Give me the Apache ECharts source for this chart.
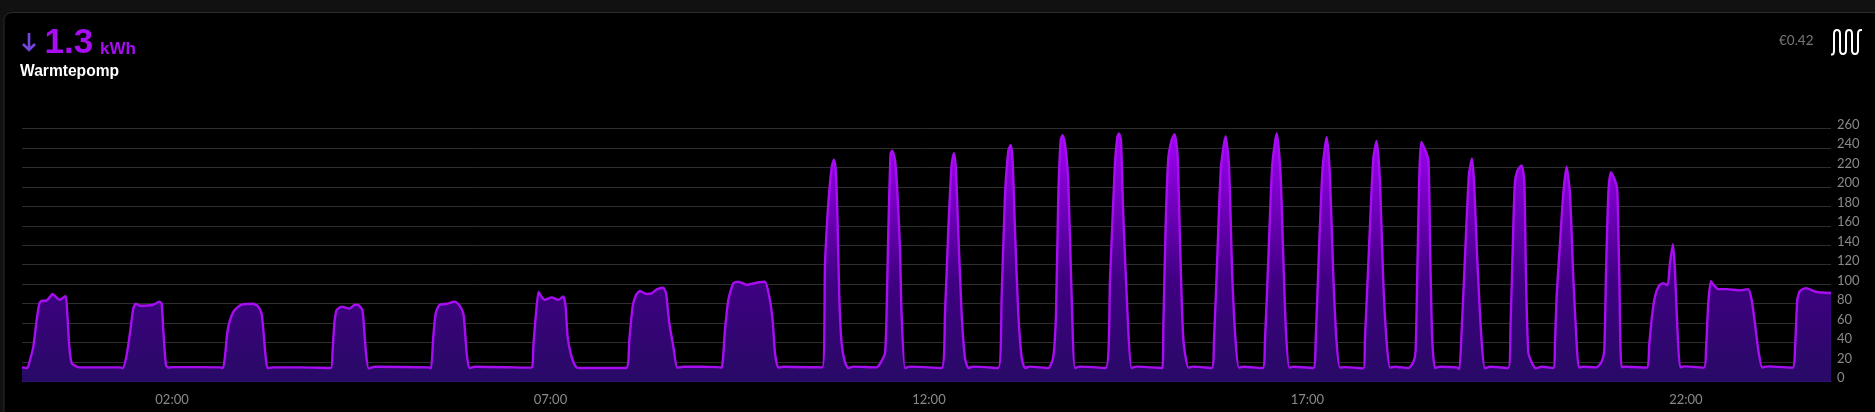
<!DOCTYPE html>
<html>
<head>
<meta charset="utf-8">
<style>html,body{margin:0;padding:0;background:#111;overflow:hidden}#c{width:1875px;height:412px}</style>
<script src="https://cdn.jsdelivr.net/npm/echarts@6/dist/echarts.min.js"></script>
</head>
<body>
<div id="c"></div>
<script>
const minutes = [
1.1,5.3,7.4,10.1,12.7,14.8,16.7,20.1,23.3,25.4,27.2,30.7,32.5,35.7,37.0,38.6,40.5,44.4,47.1,
78.8,80.9,84.0,86.7,89.3,91.2,94.6,105.2,109.9,111.8,113.1,115.2,117.1,121.0,
158.0,160.4,162.0,163.8,165.9,169.9,175.2,184.4,188.4,191.0,192.4,194.2,195.8,200.3,221.4,
245.8,247.3,248.7,250.5,254.5,260.6,265.0,267.7,270.9,272.2,273.8,275.9,280.9,
323.2,325.3,327.1,329.0,331.9,337.7,344.3,347.7,350.9,352.2,353.6,355.7,360.2,
405.1,406.4,408.5,410.6,413.0,415.6,420.9,426.2,430.2,432.0,433.6,436.0,438.6,440.7,443.4,
479.9,482.5,485.1,487.8,491.0,496.2,500.2,504.2,509.4,511.6,514.2,517.4,520.5,525.3,
553.0,555.7,558.3,561.0,564.9,568.9,575.5,583.4,590.0,593.5,596.1,598.0,600.6,604.6,
635.5,637.6,640.2,642.9,644.7,646.3,647.6,648.9,650.8,653.4,656.1,660.0,
678.5,681.2,685.1,686.4,687.8,689.6,690.9,693.1,694.9,697.0,698.3,701.0,704.9,
730.0,732.7,735.3,738.0,739.8,741.4,743.2,745.9,748.5,751.2,755.1,
774.9,777.6,780.2,782.9,784.7,786.3,788.2,790.8,793.5,796.1,800.1,
814.6,818.5,820.7,822.5,824.4,825.9,827.8,830.4,833.1,835.7,839.7,
860.0,863.5,867.4,869.3,870.6,872.2,874.0,878.0,880.6,884.6,
905.0,905.8,907.6,909.7,912.4,914.7,917.1,919.0,921.6,925.6,929.5,
944.1,945.9,948.5,951.4,955.1,957.8,960.4,963.1,965.7,969.1,
984.5,986.3,989.0,992.1,995.6,998.7,1000.9,1003.0,1005.6,1008.8,
1024.6,1026.5,1029.1,1032.0,1035.2,1037.8,1040.5,1043.1,1045.8,1049.7,
1064.3,1065.6,1069.0,1072.2,1074.8,1077.5,1080.1,1082.8,1085.4,1089.4,
1099.9,1103.9,1105.7,1107.3,1108.7,1110.2,1113.9,1116.0,1117.4,1118.9,1121.1,1125.0,
1138.2,1140.4,1142.2,1144.8,1148.0,1150.4,1152.2,1154.6,1158.1,1160.7,1164.7,
1179.2,1181.0,1183.2,1184.5,1186.6,1189.8,1191.9,1193.2,1195.0,1197.7,1201.1,1205.6,
1214.9,1216.2,1217.5,1220.2,1222.8,1225.4,1228.1,1230.7,1233.4,1235.2,1238.6,
1249.2,1253.2,1255.3,1256.6,1258.5,1260.6,1263.7,1265.6,1267.2,1269.0,1273.0,
1288.9,1291.0,1293.1,1295.4,1298.9,1302.1,1305.5,1307.3,1309.7,1311.3,1313.2,1315.5,1319.2,
1334.3,1335.9,1337.7,1339.8,1342.2,1345.6,1352.3,1362.8,1369.4,1372.1,1374.7,1377.4,1380.5,1385.3,
1404.6,1406.4,1408.3,1410.4,1415.1,1423.6,1435.0
];
const watts = [
14.7,14,22,36,63,80,83,83,87,90,88,84,85,88,70,36,19,15.4,14.7,
14.7,14,27,50,75,80,78,79,82,80,53,17,14.5,15,
14.7,14,26,50,63,74,79,80,77,70,53,26,14,14.7,14.7,
14,32,60,73.5,77,75,79,78.6,73.5,56,29,13.7,15.4,
14.7,13.7,46,70,78.6,80,82,78.6,70,53,29,14,15.4,
14.4,36,70,92,87,84,86.5,84,87.5,77,46,29,19,14.7,14,
14,43,77,89,93,90,90.6,94.7,96.4,90.6,60,36,14.4,15.4,
15,14.4,53,84,101,102.6,99.5,101.5,102.6,87,63,29,14.4,15.4,
14.7,121,182.6,220,227.7,213,162,87,39,20,14,15.5,
14.7,18.5,29,70,155,234,237,227,196,138,70,14,15.5,
14,70,155,223.6,234.5,217,155,70,25,14,15.5,
14,87,189,237,243,227,155,70,25,14,15.5,
14,25,70,189,247.5,253,244,206.5,87,14,15.5,
14,104,223.6,251,254.7,247.5,172,52.6,14,15.5,
14,58,160,229,248,254,232,143,44,14.4,15.5,
14,41,126,219,252,222,109,41,14.4,15.4,
14,41,126,222,255,212,126,51,14.4,15.4,
14,41,133,219,251,212,109,41,14.4,15,
13.7,44,143,229,247,205,102,41,14.4,15.4,
14,20,31,126,212,246,236,226,126,44,14,15.4,
14.7,13,51,126,212,229,202,126,41,13.7,15.4,
14,58,160,205,217,222,205,109,31,20,13.7,15.4,
14,39,87,142,193,220.5,193,108,39,14.7,15.4,
14.7,20.5,32.5,108,193,215,207,197,108,15,15.4,
14.4,39,67,87,99,101,99,121,141,114.5,56,14.7,15.7,
14.4,32.5,80,103,99,95,95,93.7,95,84,60,32.5,14.7,15.7,
14.4,32.5,84,93,96,92,91
];
const xTickMinutes = [120,420,720,1020,1320];
const xTickLabels = ['02:00','07:00','12:00','17:00','22:00'];
const title = 'Warmtepomp';
const stateValue = '1.3';
const stateUnit = 'kWh';
const cost = '€0.42';

echarts.graphic.registerShape('arrowIcon', echarts.graphic.extendPath('M29 33V50M23 44L29 50L35 44'));
echarts.graphic.registerShape('waveIcon', echarts.graphic.extendPath('M1831 54.5h1q2 0 2-4V34q0-4 3-4t3 4V50q0 4 3 4t3-4V34q0-4 3-4t3 4V50q0 4 3 4t3-4V34q0-4 3-4h1'));

const purple = '#a80df2';
const chart = echarts.init(document.getElementById('c'), null, {renderer:'canvas', width:1875, height:412});
chart.setOption({
  animation:false,
  backgroundColor:'#111111',
  grid:{left:22, right:44, top:128.3, bottom:30.3, containLabel:false},
  xAxis:{
    type:'value', min:1.1, max:1435,
    splitLine:{show:false},
    axisLine:{show:true, onZero:false, lineStyle:{color:'#4a2a8c', width:1}},
    axisTick:{show:false},
    axisLabel:{
      color:'#8a8a8a', fontFamily:'Lato', fontSize:13, margin:12,
      customValues:xTickMinutes,
      formatter:v=>xTickLabels[xTickMinutes.indexOf(v)]
    }
  },
  yAxis:{
    type:'value', position:'right', min:0, max:260, interval:20,
    axisLine:{show:false}, axisTick:{show:false},
    splitLine:{lineStyle:{color:'#2e2e2e', width:1}},
    axisLabel:{color:'#8a8a8a', fontFamily:'Lato', fontSize:13, margin:6, align:'left', verticalAlign:'bottom', lineHeight:7}
  },
  series:[{
    type:'line', showSymbol:false, clip:true,
    smooth:0.2,
    data:minutes.map((m,i)=>[m,watts[i]]),
    lineStyle:{color:purple, width:2.4},
    areaStyle:{color:new echarts.graphic.LinearGradient(0,0,0,1,[
      {offset:0,color:'#a000f5'},
      {offset:0.6,color:'#3f0082'},
      {offset:1,color:'#280a66'}
    ]), opacity:1}
  }],
  graphic:[
    {type:'rect', z:-10, shape:{x:4,y:12.5,width:1900,height:500,r:8}, style:{fill:'#000',stroke:'#2a2a2a',lineWidth:1}},
    {type:'arrowIcon', style:{fill:'none',stroke:'#7446e0',lineWidth:2.6}},
    {type:'text', x:44.5, y:43.2, style:{text:stateValue, font:'bold 35px "Liberation Sans"', fill:purple, verticalAlign:'middle'}},
    {type:'text', x:100, y:49, style:{text:stateUnit, font:'bold 17px "Liberation Sans"', fill:purple, verticalAlign:'middle'}},
    {type:'text', x:20, y:71.6, style:{text:title, font:'bold 15.6px "Liberation Sans"', fill:'#ffffff', verticalAlign:'middle'}},
    {type:'text', x:1779, y:41, style:{text:cost, font:'13.5px Lato', fill:'#777777', verticalAlign:'middle'}},
    {type:'waveIcon', style:{fill:'none',stroke:'#ffffff',lineWidth:2}}
  ]
});
</script>
</body>
</html>
